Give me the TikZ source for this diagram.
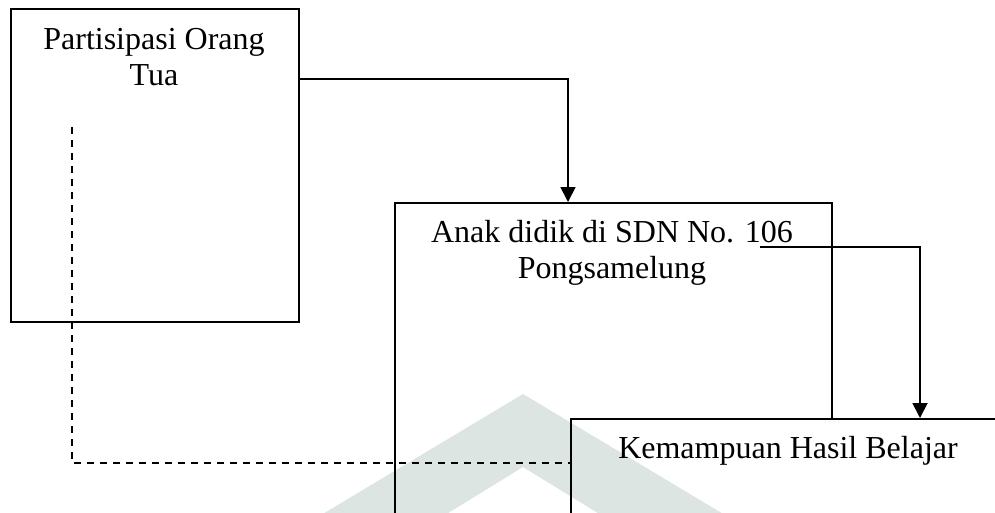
\documentclass[tikz,border=0pt]{standalone}
\usepackage{fontspec}
\setmainfont{Liberation Serif}
\usetikzlibrary{arrows.meta,positioning}
\definecolor{wmark}{RGB}{220,229,226}

\begin{document}
\begin{tikzpicture}[x=1pt,y=-1pt,
    box/.style={draw, line width=1.8pt, inner sep=0pt, anchor=north west},
    lbl/.style={font=\fontsize{32}{36}\selectfont, align=center, inner sep=0pt, anchor=base},
    arr/.style={line width=1.8pt, -{Triangle[length=15pt,width=15pt]}},
    dsh/.style={line width=1.8pt, dash pattern=on 7pt off 6pt}]
    \useasboundingbox (0,0) rectangle (995,512);
    \clip (0,0) rectangle (995,512);

    % Boxes
    \node[box, minimum width=288pt, minimum height=313pt] (p1) at (10,8) {};
    \node[box, minimum width=437pt, minimum height=400pt] (p2) at (394,202) {};
    \node[box, fill=white, minimum width=600pt, minimum height=200pt] (k3) at (570,418) {};

    % Labels (base = last line)
    \node[lbl] (t1) at (154,85) {Partisipasi Orang\\Tua};
    \node[lbl] (t2) at (612,278) {Anak didik di SDN No. 106\\Pongsamelung};
    \node[lbl] (t3) at (788,458) {Kemampuan Hasil Belajar};

    % Connectors
    \coordinate (s1) at (72,127);
    \coordinate (s2) at (760,247);
    \draw[arr] (p1.east |- 0,79) -| ([xshift=174pt]p2.north west);
    \draw[arr] (s2) -| ([xshift=350pt]k3.north west);
    \draw[dsh] (s1) |- (k3.west |- 0,463);

    % Watermark
    \fill[wmark, blend mode=multiply] (523,394) -- (770,542) -- (645,542) -- (523,467)
        -- (401,542) -- (276,542) -- cycle;
\end{tikzpicture}
\end{document}
